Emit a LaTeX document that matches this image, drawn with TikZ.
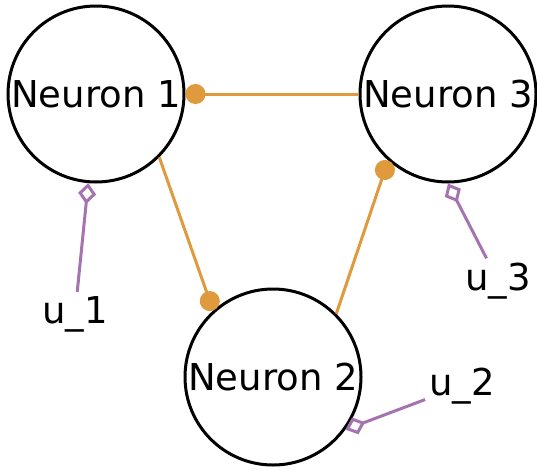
\documentclass[tikz,border=0pt]{standalone}
\usepackage{fontspec}
\setmainfont{DejaVu Sans}
\usetikzlibrary{arrows.meta}
\definecolor{synorange}{RGB}{222,154,60}
\definecolor{inpurple}{RGB}{165,115,175}
\begin{document}
\begin{tikzpicture}[x=1pt, y=-1pt,
    neuron/.style={draw, circle, line width=3pt, minimum size=176pt, inner sep=0pt, font=\fontsize{37}{40}\selectfont},
    synapse/.style={draw=synorange, line width=3pt, -{Circle[length=20pt]}},
    input/.style={draw=inpurple, line width=3pt, -{Diamond[open, length=21pt, width=18pt]}},
    ulabel/.style={inner sep=4pt, font=\fontsize{37}{40}\selectfont}]
    \useasboundingbox (0,0) rectangle (537,469);

    \node[neuron] (n1) at (96,94) {Neuron 1};
    \node[neuron] (n3) at (448,94) {Neuron 3};
    \node[neuron] (n2) at (273,377) {Neuron 2};

    \node[ulabel, anchor=base] (u1) at (75,323) {u\_1};
    \node[ulabel, anchor=base] (u3) at (498,290) {u\_3};
    \node[ulabel, anchor=base] (u2) at (462,395) {u\_2};

    \draw[synapse] (n3.180) -- (n1.0);
    \draw[synapse] (n1.-45) -- (n2.132);
    \draw[synapse] (n2.45) -- (n3.228);

    \draw[input] (u1) -- (n1.-95);
    \draw[input] (u3) -- (n3.-90);
    \draw[input] (u2) -- (n2.-36);
\end{tikzpicture}
\end{document}
